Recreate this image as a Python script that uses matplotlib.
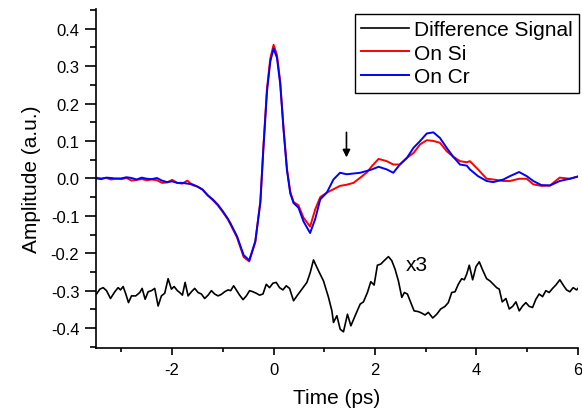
import matplotlib
matplotlib.use("Agg")
import matplotlib.pyplot as plt
from matplotlib.ticker import MultipleLocator

plt.rcParams["font.family"] = ["Liberation Sans", "DejaVu Sans"]
plt.rcParams["axes.unicode_minus"] = False

# main traces (ps, a.u.)
t_main = [-3.5, -3.4, -3.3, -3.2, -3.1, -3.0, -2.9, -2.8, -2.7, -2.6, -2.5, -2.4,
          -2.3, -2.2, -2.1, -2.0, -1.9, -1.8, -1.7, -1.6, -1.5, -1.4, -1.3, -1.2,
          -1.1, -1.0, -0.9, -0.85, -0.72, -0.59, -0.48, -0.36, -0.26, -0.2, -0.13,
          -0.065, 0.0, 0.067, 0.131, 0.197, 0.264, 0.329, 0.394, 0.49, 0.59, 0.72,
          0.82, 0.92, 1.05, 1.18, 1.31, 1.44, 1.575, 1.71, 1.84, 1.94, 2.07, 2.23,
          2.36, 2.49, 2.63, 2.76, 2.89, 3.02, 3.15, 3.28, 3.41, 3.54, 3.675, 3.81,
          3.87, 4.03, 4.2, 4.33, 4.53, 4.66, 4.84, 4.99, 5.12, 5.28, 5.45, 5.64,
          5.84, 6.0]

on_si = [0.002, 0.000, 0.001, -0.003, 0.000, -0.002, 0.001, -0.006, -0.004, -0.002,
         -0.005, -0.003, -0.005, -0.012, -0.011, -0.004, -0.012, -0.014, -0.006,
         -0.018, -0.022, -0.030, -0.045, -0.058, -0.072, -0.090, -0.110, -0.123,
         -0.158, -0.210, -0.222, -0.170, -0.060, 0.086, 0.240, 0.320, 0.357, 0.330,
         0.258, 0.133, 0.025, -0.036, -0.063, -0.072, -0.105, -0.129, -0.083, -0.050,
         -0.038, -0.029, -0.020, -0.017, -0.012, 0.002, 0.016, 0.033, 0.052, 0.046,
         0.037, 0.037, 0.055, 0.068, 0.091, 0.102, 0.100, 0.095, 0.073, 0.058, 0.046,
         0.043, 0.046, 0.024, -0.001, -0.003, -0.007, -0.007, -0.001, -0.001, -0.016,
         -0.020, -0.019, 0.002, -0.001, 0.005]

on_cr = [0.000, -0.002, 0.002, 0.001, -0.001, 0.000, 0.003, 0.001, -0.003, 0.002,
         -0.001, -0.002, 0.001, -0.006, -0.010, -0.008, -0.012, -0.012, -0.014,
         -0.016, -0.022, -0.030, -0.045, -0.056, -0.070, -0.088, -0.108, -0.120,
         -0.155, -0.205, -0.219, -0.168, -0.064, 0.080, 0.232, 0.312, 0.347, 0.322,
         0.252, 0.130, 0.022, -0.040, -0.066, -0.078, -0.115, -0.146, -0.109, -0.056,
         -0.038, -0.003, 0.015, 0.011, 0.013, 0.015, 0.020, 0.024, 0.031, 0.024,
         0.015, 0.037, 0.055, 0.082, 0.100, 0.120, 0.123, 0.108, 0.082, 0.058, 0.037,
         0.034, 0.024, 0.006, -0.007, -0.010, -0.003, 0.006, 0.017, 0.006, -0.007,
         -0.018, -0.019, -0.007, -0.001, 0.005]

# difference signal (x3, offset)
t_diff = [-3.49, -3.425, -3.359, -3.293, -3.215, -3.13, -3.064, -3.018, -2.965, -2.913,
          -2.86, -2.801, -2.717, -2.638, -2.591, -2.532, -2.473, -2.407, -2.343, -2.276,
          -2.211, -2.146, -2.079, -2.014, -1.961, -1.896, -1.85, -1.797, -1.744, -1.685,
          -1.62, -1.555, -1.488, -1.423, -1.358, -1.291, -1.226, -1.161, -1.094, -1.03,
          -0.965, -0.898, -0.846, -0.787, -0.734, -0.669, -0.602, -0.537, -0.472, -0.406,
          -0.341, -0.276, -0.209, -0.144, -0.079, -0.012, 0.053, 0.118, 0.185, 0.25,
          0.315, 0.394, 0.461, 0.559, 0.657, 0.722, 0.787, 0.886, 0.984, 1.083, 1.15,
          1.181, 1.248, 1.313, 1.378, 1.457, 1.524, 1.608, 1.707, 1.772, 1.85, 1.917,
          1.982, 2.047, 2.114, 2.179, 2.264, 2.331, 2.396, 2.461, 2.528, 2.579, 2.638,
          2.705, 2.77, 2.854, 2.921, 2.986, 3.051, 3.138, 3.217, 3.295, 3.38, 3.445,
          3.512, 3.577, 3.642, 3.709, 3.76, 3.807, 3.858, 3.925, 3.99, 4.055, 4.122,
          4.2, 4.266, 4.331, 4.398, 4.449, 4.508, 4.581, 4.646, 4.713, 4.778, 4.843,
          4.909, 4.974, 5.039, 5.106, 5.171, 5.236, 5.303, 5.368, 5.433, 5.5, 5.565,
          5.644, 5.709, 5.776, 5.841, 5.906, 5.974, 6.0]

diff = [-0.309, -0.296, -0.292, -0.300, -0.321, -0.303, -0.292, -0.298, -0.289, -0.309,
        -0.332, -0.314, -0.314, -0.305, -0.294, -0.323, -0.303, -0.300, -0.294, -0.341,
        -0.314, -0.307, -0.268, -0.296, -0.289, -0.300, -0.305, -0.312, -0.278, -0.314,
        -0.303, -0.294, -0.305, -0.309, -0.321, -0.312, -0.300, -0.309, -0.314, -0.310,
        -0.303, -0.298, -0.300, -0.287, -0.298, -0.312, -0.324, -0.314, -0.300, -0.303,
        -0.307, -0.312, -0.309, -0.283, -0.292, -0.280, -0.278, -0.292, -0.298, -0.287,
        -0.294, -0.327, -0.314, -0.296, -0.278, -0.252, -0.218, -0.247, -0.274, -0.318,
        -0.354, -0.385, -0.367, -0.403, -0.410, -0.363, -0.394, -0.367, -0.336, -0.330,
        -0.305, -0.276, -0.285, -0.232, -0.229, -0.220, -0.209, -0.220, -0.243, -0.274,
        -0.318, -0.305, -0.309, -0.332, -0.354, -0.356, -0.360, -0.365, -0.358, -0.373,
        -0.363, -0.349, -0.342, -0.332, -0.305, -0.303, -0.283, -0.268, -0.271, -0.256,
        -0.232, -0.271, -0.236, -0.223, -0.245, -0.268, -0.274, -0.283, -0.292, -0.296,
        -0.330, -0.321, -0.349, -0.342, -0.330, -0.354, -0.341, -0.332, -0.342, -0.345,
        -0.323, -0.309, -0.316, -0.300, -0.305, -0.294, -0.285, -0.271, -0.285, -0.298,
        -0.303, -0.292, -0.298, -0.294]

arrow_t = 1.437
arrow_from = 0.123
arrow_to = 0.056


def main():
    fig = plt.figure(figsize=(5.82, 4.10), dpi=100)
    ax = fig.add_axes([0.165, 0.149, 0.828, 0.827])

    ax.plot(t_diff, diff, color="black", linewidth=1.2, label="Difference Signal")
    ax.plot(t_main, on_si, color="red", linewidth=1.4, label="On Si")
    ax.plot(t_main, on_cr, color="blue", linewidth=1.4, label="On Cr")

    ax.annotate("", xy=(arrow_t, arrow_to), xytext=(arrow_t, arrow_from),
                arrowprops=dict(arrowstyle="-|>", color="black", lw=1.2,
                                mutation_scale=11, shrinkA=0, shrinkB=0))
    ax.text(2.6, -0.23, "x3", fontsize=15, va="center", ha="left")

    ax.set_xlim(-3.5, 6)
    ax.set_ylim(-0.453, 0.453)
    ax.xaxis.set_major_locator(MultipleLocator(2))
    ax.xaxis.set_minor_locator(MultipleLocator(1))
    ax.yaxis.set_major_locator(MultipleLocator(0.1))
    ax.yaxis.set_minor_locator(MultipleLocator(0.05))
    ax.yaxis.set_major_formatter(plt.FuncFormatter(lambda v, p: f"{v:.1f}".replace("-0.0", "0.0")))

    for side in ("top", "right"):
        ax.spines[side].set_visible(False)
    for side in ("left", "bottom"):
        ax.spines[side].set_linewidth(1.2)
    ax.tick_params(which="both", direction="out", width=1.2, labelsize=12)
    ax.tick_params(axis="x", which="major", length=5, pad=5)
    ax.tick_params(axis="x", which="minor", length=3)
    ax.tick_params(axis="y", which="major", length=8, pad=4)
    ax.tick_params(axis="y", which="minor", length=4)

    ax.set_xlabel("Time (ps)", fontsize=15, labelpad=8)
    ax.set_ylabel("Amplitude (a.u.)", fontsize=15, labelpad=7)

    leg = ax.legend(loc="upper right", bbox_to_anchor=(1.002, 0.985), fontsize=15,
                    fancybox=False, framealpha=1, edgecolor="black",
                    handlelength=2.3, borderpad=0.3, labelspacing=0.22,
                    handletextpad=0.25, borderaxespad=0.0)
    leg.get_frame().set_linewidth(1.0)

    fig.savefig("out.png", dpi=100)
    plt.close(fig)


if __name__ == "__main__":
    main()
